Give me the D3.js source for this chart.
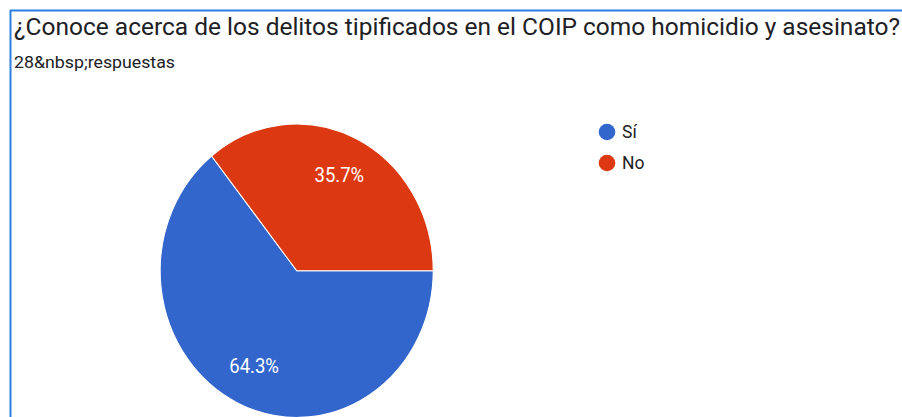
<!DOCTYPE html>
<html><head><meta charset="utf-8">
<script src="https://cdn.jsdelivr.net/npm/d3@7"></script>
<style>html,body{margin:0;padding:0;background:#fff;overflow:hidden}</style>
</head><body>
<svg id="c" width="902" height="417"></svg>
<script>
const title = "¿Conoce acerca de los delitos tipificados en el COIP como homicidio y asesinato?";
const subtitle = "28&nbsp;respuestas";
const categories = ["Sí", "No"];
const values = [18, 10];
const colors = ["#3366cc", "#dc3912"];

const svg = d3.select("#c");
// frame border
svg.append("line").attr("x1",10).attr("x2",902).attr("y1",10.5).attr("y2",10.5)
  .attr("stroke","#2a7fe0").attr("stroke-width",2);
svg.append("line").attr("x1",10.5).attr("x2",10.5).attr("y1",10).attr("y2",417)
  .attr("stroke","#2a7fe0").attr("stroke-width",2);

svg.append("text").attr("x",14).attr("y",35).text(title)
  .attr("font-family","Roboto").attr("font-size",24.5).attr("fill","#202124")
  .attr("textLength",886).attr("lengthAdjust","spacingAndGlyphs");
svg.append("text").attr("x",14).attr("y",68).text(subtitle)
  .attr("font-family","Roboto").attr("font-size",17).attr("fill","#202124")
  .attr("textLength",161).attr("lengthAdjust","spacingAndGlyphs");

const total = d3.sum(values);
const pie = d3.pie().sort(null).startAngle(Math.PI/2).endAngle(Math.PI/2 + 2*Math.PI);
const arcs = pie(values);
const r = 136.5;
const arc = d3.arc().innerRadius(0).outerRadius(r);
const g = svg.append("g").attr("transform","translate(296.7,270.7) scale(1,1.075)");
g.selectAll("path").data(arcs).join("path")
  .attr("d", arc).attr("fill",(d,i)=>colors[i]).attr("stroke","#fff").attr("stroke-width",1);

const labelArc = d3.arc().innerRadius(r*0.72).outerRadius(r*0.72);
g.selectAll("text.lbl").data(arcs).join("text").attr("class","lbl")
  .attr("transform", d => { const c = labelArc.centroid(d); return `translate(${c[0]},${c[1]})`; })
  .attr("text-anchor","middle").attr("dy","0.35em")
  .attr("font-family","Roboto").attr("font-size",18.5).attr("fill","#fff")
  .text(d => (d.data/total*100).toFixed(1) + "%");

const leg = svg.append("g");
categories.forEach((c,i) => {
  const y = 132 + i*31;
  leg.append("circle").attr("cx",607).attr("cy",y).attr("r",8.3).attr("fill",colors[i]);
  leg.append("text").attr("x",622).attr("y",y).attr("dy","0.35em").text(c)
    .attr("font-family","Roboto").attr("font-size",17.5).attr("fill","#222");
});
</script>
</body></html>
